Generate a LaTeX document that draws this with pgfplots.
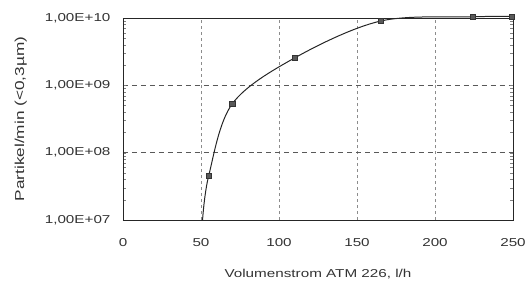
\documentclass[border=0pt]{standalone}
\usepackage{pgfplots}
\pgfplotsset{compat=1.18}
\usepackage{fontspec}
\setmainfont{Liberation Sans}
\newfontfamily\lab[FakeStretch=1.33]{Liberation Sans}
\begin{document}
\begin{tikzpicture}
\useasboundingbox (-123bp,-63bp) rectangle (402bp,220bp);
\clip (-123bp,-63bp) rectangle (402bp,220bp);
\begin{axis}[
  scale only axis, width=390bp, height=202bp,
  ymode=log, xmin=0, xmax=250, ymin=1e7, ymax=1e10,
  xtick={0,50,100,150,200,250},
  ytick={1e7,1e8,1e9,1e10},
  yticklabels={{1,00E+07},{1,00E+08},{1,00E+09},{1,00E+10}},
  /pgf/number format/assume math mode=true,
  tick label style={font=\lab\fontsize{11.5}{13}\selectfont, text=black!80},
  xticklabel style={yshift=-15bp},
  yticklabel style={xshift=-9bp},
  xlabel={Volumenstrom ATM 226, l/h},
  ylabel={Partikel/min (<0,3µm)},
  xlabel style={font=\lab\fontsize{11.5}{13}\selectfont, text=black!80, at={(axis description cs:0.5,-0.283)}, anchor=base, inner sep=0pt},
  ylabel style={font=\lab\fontsize{13}{15}\selectfont, text=black!80, at={(axis description cs:-0.262,0.5)}, anchor=center, inner sep=0pt},
  xmajorgrids, ymajorgrids,
  x grid style={dash pattern=on 3pt off 3pt, black!45, line width=0.6pt},
  y grid style={dash pattern=on 5pt off 4pt, black!65, line width=0.8pt},
  axis line style={black!85, line width=0.9pt},
  major tick length=0pt,
  clip=false,
]
\addplot[black!85, line width=1pt, smooth, tension=0.55] coordinates {
 (51,1e7) (55,4.6e7) (70,5.3e8) (110,2.55e9) (165,9e9) (224,1.04e10) (249,1.06e10)
};
\addplot[only marks, mark=square*, mark size=2.6pt, mark options={fill=black!65, draw=black!80}] coordinates {
 (55,4.6e7) (70,5.3e8) (110,2.55e9) (165,9e9) (224,1.04e10) (249,1.06e10)
};
\end{axis}
\end{tikzpicture}
\end{document}
